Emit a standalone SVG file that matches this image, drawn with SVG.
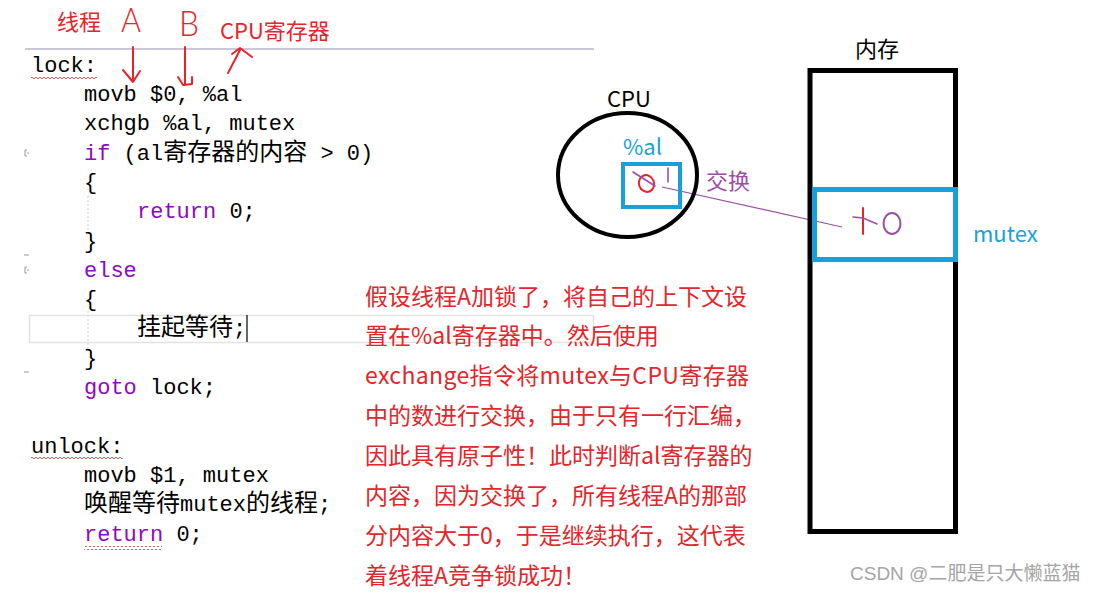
<svg xmlns="http://www.w3.org/2000/svg" width="1097" height="592" viewBox="0 0 1097 592">
  <style>
    .code{font-family:"Liberation Mono","DejaVu Sans Mono",monospace;font-size:22px;fill:#000}
    .kw{fill:#8f08c4}
    .cj{font-family:"Noto Sans CJK SC",sans-serif;font-size:24px}
    .note{font-family:"Noto Sans CJK SC",sans-serif;font-size:23px;fill:#e3262b}
    .lbl{font-family:"Noto Sans CJK SC",sans-serif;font-size:22px}
    .hand{fill:none;stroke:#e8232a;stroke-width:2;stroke-linecap:round;stroke-linejoin:round}
    .pur{fill:none;stroke:#9b4ea3;stroke-width:1.6;stroke-linecap:round;stroke-linejoin:round}
    .letter{font-family:Lato,"Liberation Sans",sans-serif;font-weight:300;fill:#e8232a}
  </style>
  <defs>
    <pattern id="wavy" patternUnits="userSpaceOnUse" x="0" y="76" width="4" height="4">
      <path d="M0 1 L2 3 L4 1" fill="none" stroke="#e0504f" stroke-width="0.9"/>
    </pattern>
  </defs>
  <rect width="1097" height="592" fill="#fff"/>

  <!-- editor chrome -->
  <g id="editor">
    <line x1="25" y1="49" x2="594" y2="49" stroke="#c9c9da" stroke-width="2"/>
    <rect x="29.5" y="315.5" width="564" height="27" fill="none" stroke="#e2e2e2" stroke-width="1.5"/>
    <line x1="247" y1="315" x2="247" y2="342" stroke="#000" stroke-width="1.2"/>
    <line x1="88" y1="196" x2="88" y2="234" stroke="#d0d0d0" stroke-dasharray="2 2"/>
    <line x1="88" y1="311" x2="88" y2="349" stroke="#d0d0d0" stroke-dasharray="2 2"/>
    <path d="M27 150 h-2 v6 h2 M27 153 h2" fill="none" stroke="#999" stroke-width="1"/>
    <path d="M27 267 h-2 v6 h2 M27 270 h2" fill="none" stroke="#999" stroke-width="1"/>
    <line x1="24" y1="255" x2="29" y2="255" stroke="#999" stroke-width="1"/>
    <line x1="24" y1="372" x2="29" y2="372" stroke="#999" stroke-width="1"/>
    <rect x="31" y="76" width="66" height="4" fill="url(#wavy)"/>
    <rect x="31" y="456" width="92" height="4" fill="url(#wavy)"/>
    <rect x="84" y="546" width="78" height="4" fill="url(#wavy)"/>
  </g>

  <!-- code -->
  <g id="code" class="code">
    <text x="31" y="72">lock:</text>
    <text x="84" y="101">movb $0, %al</text>
    <text x="84" y="130">xchgb %al, mutex</text>
    <text x="84" y="160"><tspan class="kw">if</tspan> (al<tspan class="cj">寄存器的内容</tspan> &gt; 0)</text>
    <text x="84" y="189">{</text>
    <text x="137" y="218"><tspan class="kw">return</tspan> 0;</text>
    <text x="84" y="248">}</text>
    <text x="84" y="277" class="kw">else</text>
    <text x="84" y="306">{</text>
    <text x="137" y="335"><tspan class="cj">挂起等待</tspan>;</text>
    <text x="84" y="365">}</text>
    <text x="84" y="394"><tspan class="kw">goto</tspan> lock;</text>
    <text x="31" y="453">unlock:</text>
    <text x="84" y="482">movb $1, mutex</text>
    <text x="84" y="511"><tspan class="cj">唤醒等待</tspan>mutex<tspan class="cj">的线程</tspan>;</text>
    <text x="84" y="541"><tspan class="kw">return</tspan> 0;</text>
  </g>

  <!-- thread labels -->
  <g id="labels">
    <text x="57" y="30" class="lbl" fill="#e8232a" font-size="22.5">线程</text>
    <text x="121" y="32" class="letter" font-size="33" textLength="20" lengthAdjust="spacingAndGlyphs">A</text>
    <text x="179" y="36" class="letter" font-size="35" textLength="20" lengthAdjust="spacingAndGlyphs">B</text>
    <text x="220" y="39" class="lbl" fill="#e8232a" font-size="23.5">CPU寄存器</text>
  </g>

  <g id="connectors">
    <path class="hand" d="M133 47 L133 82 M123 70 L133 82 L140 71"/>
    <path class="hand" d="M185 47 L185 85 M178 77 L183 85 L192 84 L192 77"/>
    <path class="hand" d="M228 73 L240 50 M232 54 L240 48 L252 57"/>
    <line x1="662" y1="187" x2="842" y2="227" stroke="#9b4ea3" stroke-width="1.2"/>
  </g>

  <!-- CPU -->
  <g id="cpu">
    <ellipse cx="627.5" cy="175" rx="69.5" ry="62" fill="none" stroke="#000" stroke-width="4"/>
    <text x="607" y="107" class="lbl" fill="#000">CPU</text>
    <text x="623" y="155" class="lbl" fill="#1a9fdb">%al</text>
    <rect x="623" y="164" width="57" height="43" fill="none" stroke="#1a9fdb" stroke-width="4"/>
    <ellipse cx="646.5" cy="183.5" rx="7.5" ry="8.5" transform="rotate(-20 646.5 183.5)" fill="none" stroke="#e8232a" stroke-width="2"/>
    <path class="pur" d="M633 172 L655 186"/>
    <path class="pur" d="M668 168 L668 182"/>
    <text x="706" y="188.5" class="lbl" fill="#9b4ea3">交换</text>
  </g>

  <!-- memory -->
  <g id="memory">
    <text x="855" y="56.5" class="lbl" fill="#000">内存</text>
    <rect x="810" y="70.5" width="145.5" height="461" fill="none" stroke="#000" stroke-width="5"/>
    <rect x="814.5" y="189.5" width="141" height="70" fill="none" stroke="#1a9fdb" stroke-width="5"/>
    <path d="M863 208 L863 234" fill="none" stroke="#e8232a" stroke-width="2" stroke-linecap="round"/>
    <path class="pur" d="M853 217 L863 218 L877 224"/>
    <ellipse cx="892" cy="223.5" rx="8.5" ry="10.5" fill="none" stroke="#9b4ea3" stroke-width="2"/>
    <text x="973" y="242" class="lbl" fill="#1a9fdb">mutex</text>
  </g>

  <!-- explanation -->
  <g id="note" class="note">
    <text x="365" y="304.5">假设线程A加锁了，将自己的上下文设</text>
    <text x="365" y="344.4">置在%al寄存器中。然后使用</text>
    <text x="365" y="384.2" textLength="384" lengthAdjust="spacing">exchange指令将mutex与CPU寄存器</text>
    <text x="365" y="424">中的数进行交换，由于只有一行汇编，</text>
    <text x="365" y="463.9">因此具有原子性！此时判断al寄存器的</text>
    <text x="365" y="503.8">内容，因为交换了，所有线程A的那部</text>
    <text x="365" y="543.6">分内容大于0，于是继续执行，这代表</text>
    <text x="365" y="583.5">着线程A竞争锁成功！</text>
  </g>

  <text x="850" y="580" font-family="Liberation Sans,'Noto Sans CJK SC',sans-serif" font-size="19" fill="#a5a5a5">CSDN @二肥是只大懒蓝猫</text>
</svg>
